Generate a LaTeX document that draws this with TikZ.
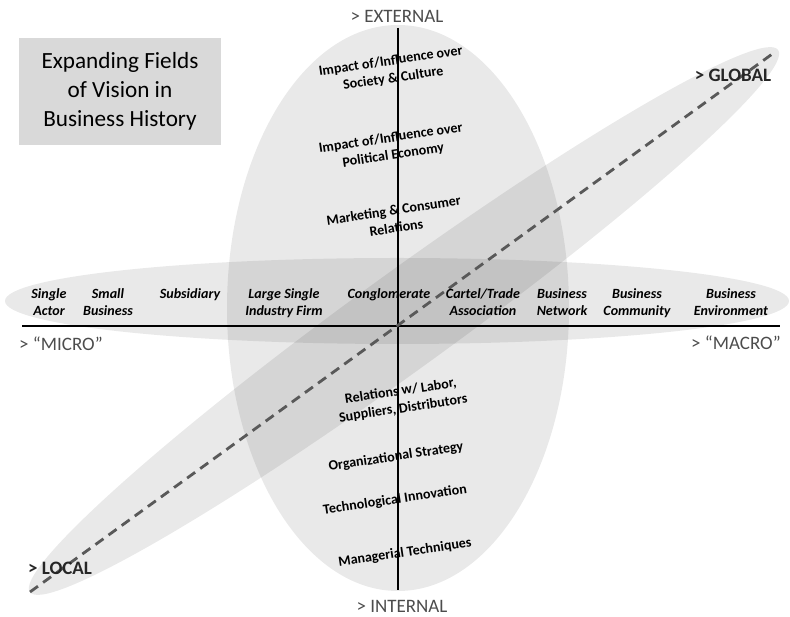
\documentclass[tikz,border=0pt]{standalone}
\usepackage{fontspec}
\setmainfont{Carlito}
\usetikzlibrary{positioning}

\begin{document}
\begin{tikzpicture}[
    x=0.025cm, y=0.025cm,
    field/.style={fill=black, fill opacity=0.085},
    axis/.style={draw=black, line width=1.5pt},
    trend/.style={draw=black!65, line width=2pt, dash pattern=on 7pt off 4.5pt},
    heading/.style={
        rectangle, fill=black!15,
        minimum width=5.05cm, minimum height=2.675cm,
        align=center, font=\fontsize{16.5}{20.6}\selectfont
    },
    pole/.style={font=\fontsize{13.5}{16}\selectfont, text=black!70, inner sep=0pt},
    polebold/.style={font=\fontsize{13.5}{16}\selectfont\bfseries, text=black!85, inner sep=0pt},
    scaletxt/.style={
        align=center, anchor=north, inner sep=0pt,
        font=\fontsize{10}{12.2}\selectfont\bfseries\itshape
    },
    sphere/.style={
        align=center, rotate=8.5, inner sep=0pt,
        font=\fontsize{10}{12.5}\selectfont\bfseries
    }
]
\useasboundingbox (0,0) rectangle (790,617);

\fill[field] (398,309) ellipse [x radius=171, y radius=283];
\fill[field] (397,316) ellipse [x radius=392, y radius=43];
\fill[field, rotate around={35.93:(404,296)}] (404,296) ellipse [x radius=462, y radius=48];

\node[heading] (title) at (120,525.5) {Expanding Fields\\of Vision in\\Business History};

\coordinate (ytop) at (398,589);
\coordinate (ybot) at (398,27);
\coordinate (xleft) at (22,291);
\coordinate (xright) at (780,291);
\coordinate (dlocal) at (30,25);
\coordinate (dglobal) at (775,565);

\draw[axis] (ytop) -- (ybot);
\draw[axis] (xleft) -- (xright);
\draw[trend] (dlocal) -- (dglobal);

\node[pole] (external) at (397,601) {> EXTERNAL};
\node[pole] (internal) at (402,11) {> INTERNAL};
\node[pole] (micro) at (61,273) {> “MICRO”};
\node[pole] (macro) at (736,274) {> “MACRO”};
\node[polebold] (global) at (733,542) {> GLOBAL};
\node[polebold] (local) at (60,49) {> LOCAL};

\node[scaletxt] (actor)   at (49,329)  {Single\\Actor};
\node[scaletxt] (small)   at (108,329) {Small\\Business};
\node[scaletxt] (subsid)  at (190,329) {Subsidiary};
\node[scaletxt] (large)   at (284,329) {Large Single\\Industry Firm};
\node[scaletxt] (conglom) at (389,329) {Conglomerate};
\node[scaletxt] (cartel)  at (483,329) {Cartel/Trade\\Association};
\node[scaletxt] (network) at (562,329) {Business\\Network};
\node[scaletxt] (commun)  at (637,329) {Business\\Community};
\node[scaletxt] (environ) at (731,329) {Business\\Environment};

\node[sphere] (society)   at (392,547) {Impact of/Influence over\\Society \& Culture};
\node[sphere] (political) at (392,470) {Impact of/Influence over\\Political Economy};
\node[sphere] (marketing) at (395,398) {Marketing \& Consumer\\Relations};
\node[sphere] (labor)     at (402,217) {Relations w/ Labor,\\Suppliers, Distributors};
\node[sphere] (orgstrat)  at (396,160) {Organizational Strategy};
\node[sphere] (techinno)  at (395,117) {Technological Innovation};
\node[sphere] (manage)    at (405,64)  {Managerial Techniques};

\end{tikzpicture}
\end{document}
